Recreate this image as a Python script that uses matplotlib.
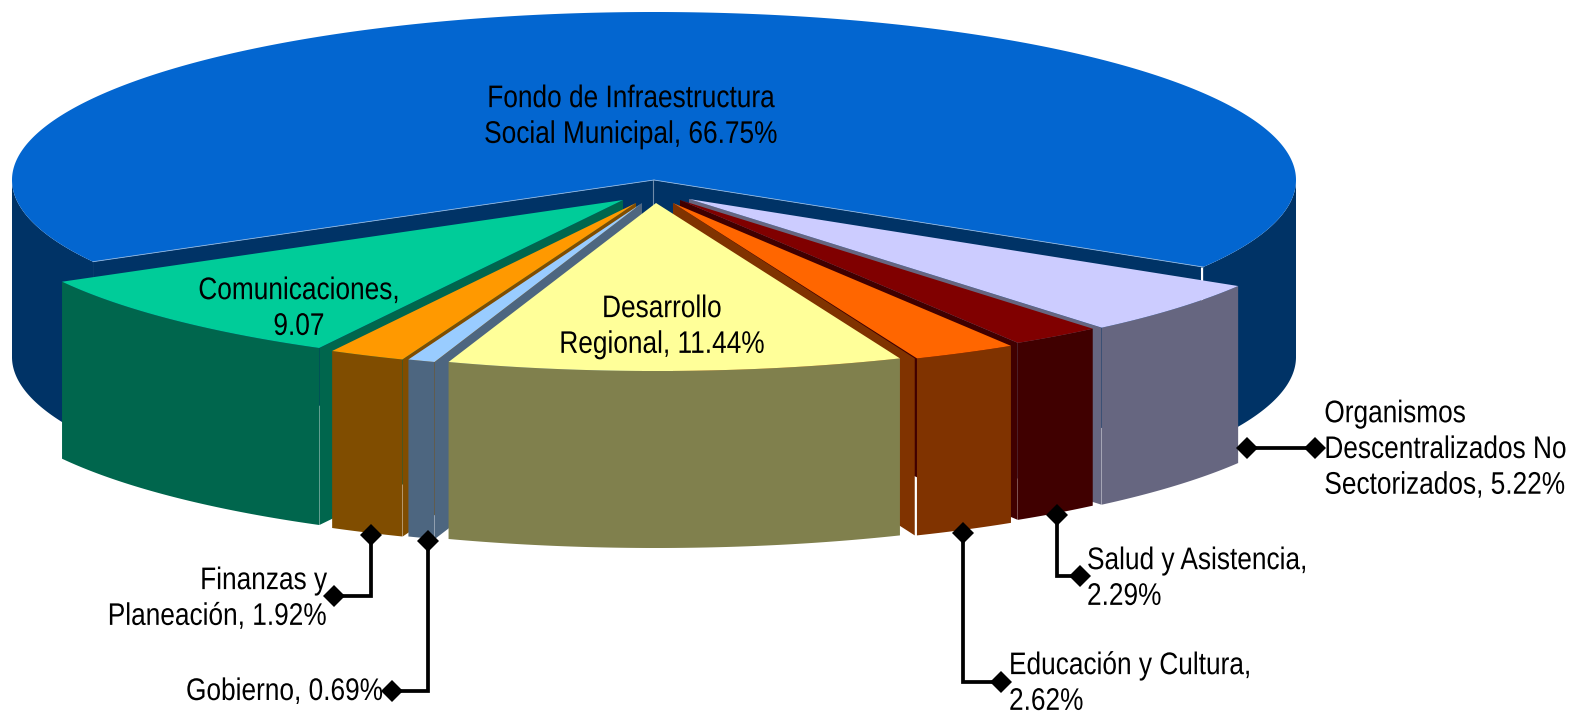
import numpy as np
import matplotlib
matplotlib.use("Agg")
import matplotlib.pyplot as plt
from matplotlib.patches import Polygon
from matplotlib.patheffects import AbstractPathEffect
from matplotlib.transforms import Affine2D

# ---- data ----
categories = ["Comunicaciones", "Finanzas y Planeación", "Gobierno", "Desarrollo Regional",
              "Educación y Cultura", "Salud y Asistencia",
              "Organismos Descentralizados No Sectorizados"]
shares = [9.07, 1.92, 0.69, 11.44, 2.62, 2.29, 5.22]
main_category = "Fondo de Infraestructura Social Municipal"
main_share = 66.75

top_colors = ["#00CC99", "#FF9900", "#99CCFF", "#FFFF99", "#FF6600", "#800000", "#CCCCFF"]
side_colors = ["#00664D", "#804D00", "#4D6680", "#80804D", "#803300", "#400000", "#666680"]
main_top = "#0366D0"
main_side = "#003366"

# ---- layout of the exploded pie ----
RX, RY, DEPTH = 642.0, 168.0, 177.0
START = 60.9                       # degrees left of "straight down"
main_apex = (654, 180)
apexes = [(623, 200), (636, 203), (642, 203), (656, 203), (673, 203), (680, 200), (689, 199)]
seams = [0.3, 0.3, 0.3, 0.0, 2.2, 0.3, 0.3]
draw_order = [0, 6, 1, 5, 2, 4, 3]
CONDENSE = 0.84

fig = plt.figure(figsize=(15.72, 7.16), dpi=100)
ax = fig.add_axes([0, 0, 1, 1])
ax.set_xlim(0, 1572)
ax.set_ylim(716, 0)
ax.axis("off")


def rim(apex, thetas):
    t = np.radians(thetas)
    return np.column_stack([apex[0] - RX * np.sin(t), apex[1] + RY * np.cos(t)])


def add_poly(pts, color):
    ax.add_patch(Polygon(pts, closed=True, facecolor=color, edgecolor="none", linewidth=0))


def add_side(apex, a, b, color):
    lo, hi = max(min(a, b), -90), min(max(a, b), 90)
    if hi <= lo:
        return
    arc = rim(apex, np.linspace(hi, lo, 160))
    add_poly(np.vstack([arc, (arc + [0, DEPTH])[::-1]]), color)


def add_wall(apex, theta, color, seam=0.0):
    corner = rim(apex, [theta])[0]
    corner = corner + [np.sign(theta) * seam, 0]
    p = np.array(apex, float)
    add_poly(np.array([p, corner, corner + [0, DEPTH], p + [0, DEPTH]]), color)


# angles
sweeps = np.array(shares) * 3.6
edges = START - np.concatenate([[0], np.cumsum(sweeps)])

# main slice
left_edge, right_edge = edges[0], edges[-1]
add_wall(main_apex, left_edge, main_side)
add_wall(main_apex, right_edge, main_side)
rc = rim(main_apex, [right_edge])[0]
ax.plot([rc[0] - 1.5] * 2, [rc[1], rc[1] + DEPTH], color="white", lw=2.2,
        solid_capstyle="butt", zorder=1)
ax.plot([main_apex[0] - 1] * 2, [main_apex[1], main_apex[1] + DEPTH], color="#6F8BA8", lw=0.8, zorder=1)
add_side(main_apex, 90, left_edge, main_side)
add_side(main_apex, right_edge, -90, main_side)
arc = rim(main_apex, np.linspace(left_edge, right_edge + 360, 600))
add_poly(np.vstack([[main_apex], arc]), main_top)
for th in (left_edge, right_edge):
    c = rim(main_apex, [th])[0]
    ax.plot([main_apex[0], c[0]], [main_apex[1], c[1]], color="#8DB4DF", lw=0.6, zorder=1)

# exploded slices, back to front
for i in draw_order:
    a, b = edges[i], edges[i + 1]
    apex = apexes[i]
    if b > 0:
        add_wall(apex, b, side_colors[i], seams[i])
    elif a < 0:
        add_wall(apex, a, side_colors[i], seams[i])
    add_side(apex, a, b, side_colors[i])
    arc = rim(apex, np.linspace(a, b, 120))
    add_poly(np.vstack([[apex], arc]), top_colors[i])


# ---- leaders ----
def leader(points):
    pts = np.array(points)
    ax.plot(pts[:, 0], pts[:, 1], color="black", lw=2.7, solid_joinstyle="miter",
            solid_capstyle="butt", zorder=3)
    ax.plot(pts[[0, -1], 0], pts[[0, -1], 1], ls="none", marker="D", ms=11, color="black", mew=0, zorder=3)


leader([(1247, 448), (1315, 448)])
leader([(1057, 515), (1057, 576), (1080, 576)])
leader([(963, 533), (963, 682), (1001, 682)])
leader([(371, 535), (371, 596), (334, 596)])
leader([(428, 541), (428, 691), (392, 691)])


# ---- labels ----
class Condense(AbstractPathEffect):
    """Narrow the glyphs around a fixed x position."""

    def __init__(self, x, factor):
        super().__init__()
        self.x, self.factor = x, factor

    def draw_path(self, renderer, gc, tpath, affine, rgbFace=None):
        squeeze = Affine2D().translate(-self.x, 0).scale(self.factor, 1).translate(self.x, 0)
        renderer.draw_path(gc, tpath, affine + squeeze, rgbFace)


def label(x, y, s, ha, ma=None):
    t = ax.text(x, y, s, ha=ha, va="center", ma=ma or ha, fontsize=22.5, family="Liberation Sans",
                color="black", linespacing=1.25, zorder=4)
    t.set_path_effects([Condense(x, CONDENSE)])


label(631, 117, "Fondo de Infraestructura\nSocial Municipal, 66.75%", "center")
label(299, 309, "Comunicaciones,\n9.07", "center")
label(662, 327, "Desarrollo\nRegional, 11.44%", "center")
label(1567, 450, "Organismos\nDescentralizados No\nSectorizados, 5.22%", "right", "left")
label(1087, 579, "Salud y Asistencia,\n2.29%", "left")
label(1009, 684, "Educación y Cultura,\n2.62%", "left")
label(327, 599, "Finanzas y\nPlaneación, 1.92%", "right")
label(383, 692, "Gobierno, 0.69%", "right")

fig.savefig("out.png", dpi=100, facecolor="white")
